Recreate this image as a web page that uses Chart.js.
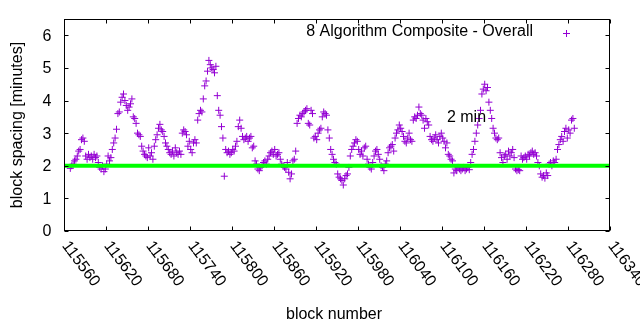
<!DOCTYPE html>
<html>
<head>
<meta charset="utf-8">
<script src="https://cdn.jsdelivr.net/npm/chart.js@4/dist/chart.umd.min.js"></script>
<style>
  html, body { margin: 0; padding: 0; background: #fff; }
  #wrap { width: 640px; height: 330px; }
</style>
</head>
<body>
<div id="wrap"><canvas id="spacingChart" width="640" height="330"></canvas></div>
<script>
// one reading every 2 blocks, starting at block 115569
const firstBlock = 115569;
const blockStep = 2;
const spacing = [
  1.92, 2.0, 2.05, 2.15, 2.2, 2.3, 2.45, 2.5, 2.8, 2.85,
  2.75, 2.3, 2.2, 2.35, 2.25, 2.3, 2.2, 2.35, 2.25, 2.3,
  2.1, 1.95, 1.9, 2.0, 1.82, 1.9, 2.05, 2.3, 2.15, 2.25,
  2.5, 2.7, 2.85, 3.12, 3.6, 3.65, 3.95, 4.1, 4.2, 4.0,
  3.85, 3.7, 3.8, 3.9, 4.05, 3.5, 3.45, 3.3, 3.0, 2.95,
  2.9, 2.6, 2.45, 2.35, 2.3, 2.25, 2.55, 2.3, 2.4, 2.2,
  2.6, 2.8, 2.95, 3.15, 3.27, 3.1, 3.05, 2.9, 2.7, 2.6,
  2.5, 2.4, 2.35, 2.45, 2.3, 2.55, 2.4, 2.35, 2.45, 2.35,
  3.0, 3.1, 3.05, 2.95, 2.6, 2.75, 2.5, 2.4, 2.7, 2.8,
  2.7, 3.4, 3.6, 3.7, 3.65, 4.05, 4.45, 4.6, 4.9, 5.23,
  5.1, 5.0, 4.95, 4.85, 5.05, 4.15, 3.7, 3.55, 3.2, 2.85,
  1.68, 2.5, 2.4, 2.45, 2.35, 2.4, 2.5, 2.45, 2.6, 2.75,
  3.2, 3.4, 3.15, 2.9, 2.8, 2.85, 2.9, 2.75, 2.85, 2.9,
  2.55, 2.6, 2.15, 2.05, 1.9, 1.85, 1.95, 2.0, 2.1, 2.15,
  2.05, 2.2, 2.3, 2.4, 2.45, 2.35, 2.5, 2.3, 2.35, 2.4,
  2.2, 2.05, 2.0, 1.95, 1.9, 2.1, 1.8, 1.6, 1.75, 2.15,
  2.2, 2.45, 3.3, 3.45, 3.55, 3.5, 3.6, 3.65, 3.7, 3.75,
  3.3, 3.25, 3.7, 3.6, 2.85, 2.9, 2.8, 3.0, 3.1, 3.15,
  3.5, 3.65, 3.6, 3.55, 3.1, 2.85, 2.5, 2.35, 2.2, 2.1,
  2.05, 1.75, 1.65, 1.6, 1.55, 1.41, 1.6, 1.7, 1.75, 1.95,
  2.3, 2.5, 2.6, 2.7, 2.8, 2.75, 2.5, 2.35, 2.45, 2.3,
  2.55, 2.6, 2.2, 2.05, 1.95, 1.9, 2.1, 2.3, 2.45, 2.5,
  2.35, 2.2, 2.0, 1.95, 1.85, 2.05, 2.15, 2.4, 2.55, 2.6,
  2.65, 2.45, 2.85, 3.0, 3.1, 3.25, 3.15, 3.05, 2.9, 2.75,
  2.7, 2.85, 3.0, 2.8, 2.75, 3.4, 3.5, 3.45, 3.55, 3.8,
  3.6, 3.55, 3.4, 3.15, 3.45, 3.35, 3.25, 2.9, 2.8, 2.75,
  2.85, 2.95, 2.8, 2.7, 2.9, 3.0, 2.85, 2.75, 2.55, 2.7,
  2.35, 2.3, 2.2, 2.15, 1.78, 1.9, 1.85, 1.95, 1.9, 1.85,
  1.9, 1.95, 1.85, 1.9, 1.95, 1.88, 2.1, 2.35, 2.5, 2.75,
  3.0, 3.25, 3.45, 3.7, 4.2, 4.35, 4.5, 4.3, 4.4, 3.95,
  3.7, 3.45, 3.15, 3.0, 2.85, 2.8, 2.85, 2.4, 2.25, 2.1,
  2.3, 2.35, 2.2, 2.45, 2.3, 2.4, 2.5, 2.25, 1.9, 1.85,
  1.88, 1.85, 2.3, 2.2, 2.25, 2.3, 2.2, 2.35, 2.3, 2.4,
  2.45, 2.35, 2.4, 2.3, 2.1, 2.0, 1.75, 1.65, 1.7, 1.62,
  1.78, 1.7, 2.05, 2.1, 2.0, 2.15, 2.1, 2.2, 2.5, 2.65,
  2.8, 2.9, 2.75, 3.05, 3.15, 2.85, 3.1, 3.0, 3.4, 3.45, 3.15
];

const xTicks = [115560, 115620, 115680, 115740, 115800, 115860, 115920,
  115980, 116040, 116100, 116160, 116220, 116280, 116340];
const yTicks = [0, 1, 2, 3, 4, 5, 6];
const twoMin = 2;

const seriesName = "8 Algorithm Composite - Overall";
const FONT = "16px 'Liberation Sans', Arial, sans-serif";
const PURPLE = "#9400d3";

const points = spacing.map((v, i) => ({ x: firstBlock + i * blockStep, y: v }));

const ctx = document.getElementById("spacingChart").getContext("2d");

new Chart(ctx, {
  type: "scatter",
  data: {
    datasets: [
      {
        label: "2 min",
        data: [{ x: xTicks[0], y: twoMin }, { x: xTicks[xTicks.length - 1], y: twoMin }],
        showLine: true,
        borderColor: "#00ff00",
        borderWidth: 4,
        pointRadius: 0,
        order: 0,
      },
      {
        label: seriesName,
        data: points,
        pointStyle: "cross",
        pointRadius: 3.5,
        pointBorderWidth: 1,
        borderColor: PURPLE,
        backgroundColor: PURPLE,
        showLine: false,
        order: 1,
      },
    ],
  },
  options: {
    responsive: false,
    animation: false,
    events: [],
    layout: { padding: { left: 64, right: 30, top: 19, bottom: 99 } },
    plugins: { legend: { display: false }, tooltip: { enabled: false } },
    scales: {
      x: { type: "linear", display: false, min: xTicks[0], max: xTicks[xTicks.length - 1] },
      y: { type: "linear", display: false, min: 0, max: 6.5 },
    },
  },
  plugins: [
    {
      id: "gnuplotFrame",
      afterDraw(chart) {
        const { ctx, chartArea: { left, right, top, bottom }, scales: { x, y } } = chart;
        const L = Math.round(left) + 0.5, R = Math.round(right) - 0.5;
        const T = Math.round(top) + 0.5, B = Math.round(bottom) - 0.5;
        ctx.save();
        ctx.strokeStyle = "#000";
        ctx.lineWidth = 1;
        ctx.strokeRect(L, T, R - L, B - T);

        // inward ticks, mirrored
        ctx.beginPath();
        yTicks.forEach((t) => {
          const py = Math.round(y.getPixelForValue(t)) + 0.5;
          ctx.moveTo(L, py); ctx.lineTo(L + 4, py);
          ctx.moveTo(R, py); ctx.lineTo(R - 4, py);
        });
        xTicks.forEach((t) => {
          const px = Math.round(x.getPixelForValue(t)) + 0.5;
          ctx.moveTo(px, B); ctx.lineTo(px, B - 4);
          ctx.moveTo(px, T); ctx.lineTo(px, T + 4);
        });
        ctx.stroke();

        ctx.fillStyle = "#000";
        ctx.font = FONT;
        ctx.textAlign = "right";
        ctx.textBaseline = "middle";
        yTicks.forEach((t) => ctx.fillText(String(t), L - 13, y.getPixelForValue(t) + 1));

        // rotated x tick labels
        ctx.textAlign = "left";
        xTicks.forEach((t) => {
          const px = x.getPixelForValue(t);
          ctx.save();
          ctx.translate(px + 1, B + 12.5);
          ctx.rotate((53 * Math.PI) / 180);
          ctx.fillText(String(t), 0, 0);
          ctx.restore();
        });

        // axis titles
        ctx.textAlign = "center";
        ctx.fillText("block number", 334, 315);
        ctx.save();
        ctx.translate(18, (T + B) / 2);
        ctx.rotate(-Math.PI / 2);
        ctx.fillText("block spacing [minutes]", 0, 0);
        ctx.restore();

        // key
        ctx.textAlign = "right";
        ctx.fillText(seriesName, 533, 32);
        ctx.strokeStyle = PURPLE;
        ctx.beginPath();
        ctx.moveTo(563, 33.5); ctx.lineTo(570, 33.5);
        ctx.moveTo(566.5, 30); ctx.lineTo(566.5, 37);
        ctx.stroke();

        // label for the reference line
        ctx.fillStyle = "#000";
        ctx.textAlign = "left";
        ctx.fillText("2 min", x.getPixelForValue(116107), y.getPixelForValue(3.5) + 1);
        ctx.restore();
      },
    },
  ],
});
</script>
</body>
</html>
